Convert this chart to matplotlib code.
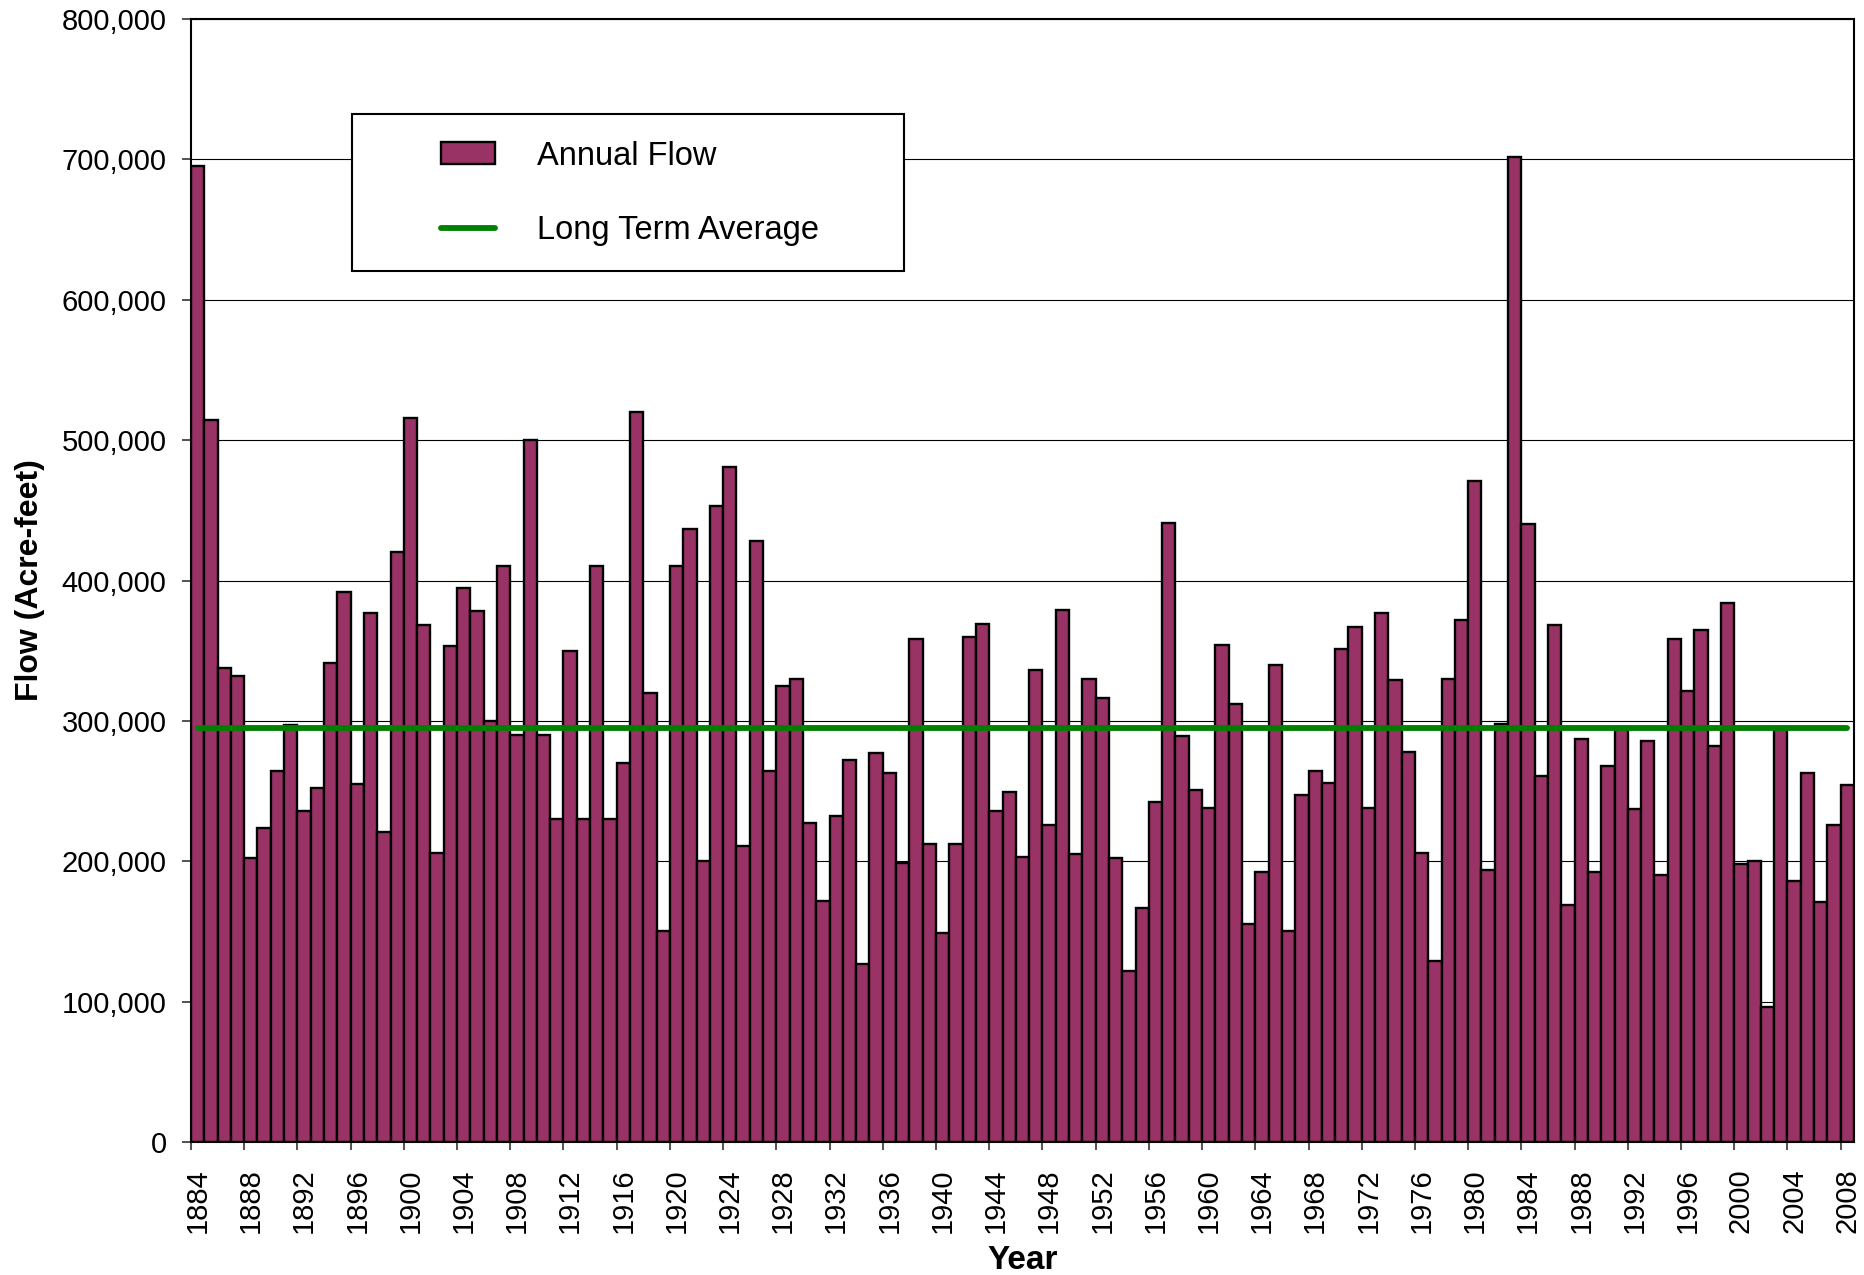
import numpy as np
import matplotlib
matplotlib.use('Agg')
import matplotlib.pyplot as plt
from matplotlib.patches import Rectangle
from matplotlib.ticker import FuncFormatter

plt.rcParams['font.family'] = ['Liberation Sans', 'DejaVu Sans']

# ---------- data ----------
years = np.arange(1884, 2009)
flow = [
    695, 514, 338, 332, 202, 224, 264, 297, 236, 252,   # 1884-1893
    341, 392, 255, 377, 221, 420, 516, 368, 206, 353,   # 1894-1903
    395, 378, 300, 410, 290, 500, 290, 230, 350, 230,   # 1904-1913
    410, 230, 270, 520, 320, 150, 410, 437, 200, 453,   # 1914-1923
    481, 211, 428, 264, 325, 330, 227, 172, 232, 272,   # 1924-1933
    127, 277, 263, 199, 358, 212, 149, 212, 360, 369,   # 1934-1943
    236, 249, 203, 336, 226, 379, 205, 330, 316, 202,   # 1944-1953
    122, 167, 242, 441, 289, 251, 238, 354, 312, 155,   # 1954-1963
    192, 340, 150, 247, 264, 256, 351, 367, 238, 377,   # 1964-1973
    329, 278, 206, 129, 330, 372, 471, 194, 298, 702,   # 1974-1983
    440, 261, 368, 169, 287, 192, 268, 296, 237, 286,   # 1984-1993
    190, 358, 321, 365, 282, 384, 198, 200, 96, 296,    # 1994-2003
    186, 263, 171, 226, 254,                            # 2004-2008
]
flow = np.array(flow) * 1000
long_term_avg = 295000

bar_color = '#993366'
avg_color = '#008000'

# ---------- figure ----------
fig = plt.figure(figsize=(18.65, 12.75), dpi=100)
ax = fig.add_axes([0.1024, 0.1043, 0.8917, 0.8808])

bars = ax.bar(years, flow, width=1.0, color=bar_color, edgecolor='black',
              linewidth=1.7, label='Annual Flow', zorder=2)
line, = ax.plot([years[0], years[-1]], [long_term_avg, long_term_avg], color=avg_color,
                linewidth=4.2, solid_capstyle='round', label='Long Term Average', zorder=3)

ax.set_xlim(years[0] - 0.5, years[-1] + 0.5)
ax.set_ylim(0, 800000)
ax.set_yticks(np.arange(0, 800001, 100000))
ax.yaxis.set_major_formatter(FuncFormatter(lambda v, p: f'{int(v):,}'))
ax.yaxis.grid(True, color='black', linewidth=0.8)
ax.set_axisbelow(True)

# labels at bar centres, tick marks at bar boundaries
ax.set_xticks(years[::4])
ax.set_xticklabels([str(y) for y in years[::4]], rotation=90)
ax.set_xticks(years[::4] - 0.5, minor=True)
ax.tick_params(axis='x', which='major', length=0, pad=19, labelsize=21)
ax.tick_params(axis='x', which='minor', length=6, width=1.2, color='#333333')
ax.tick_params(axis='y', which='major', length=6.5, width=1.2, color='#333333',
               pad=11, labelsize=21)

for s in ax.spines.values():
    s.set_linewidth(1.5)

ax.set_ylabel('Flow (Acre-feet)', fontsize=23, fontweight='bold')
ax.yaxis.set_label_coords(-0.088, 0.5)
ax.set_xlabel('Year', fontsize=24, fontweight='bold')
ax.xaxis.set_label_coords(0.5, -0.092)

# legend: white box with black frame, entries placed inside it
ax.add_patch(Rectangle((0.0968, 0.7756), 0.3319, 0.1398, transform=ax.transAxes,
                       facecolor='white', edgecolor='black', linewidth=1.5, zorder=4))
leg = ax.legend([bars, line], ['Annual Flow', 'Long Term Average'],
                loc='upper left', bbox_to_anchor=(0.1503, 0.8916), frameon=False,
                fontsize=23.5, borderpad=0, borderaxespad=0, handlelength=1.65,
                handleheight=0.65, handletextpad=1.3, labelspacing=1.33)
leg.set_zorder(5)

fig.savefig('out.png', dpi=100)
plt.close(fig)
